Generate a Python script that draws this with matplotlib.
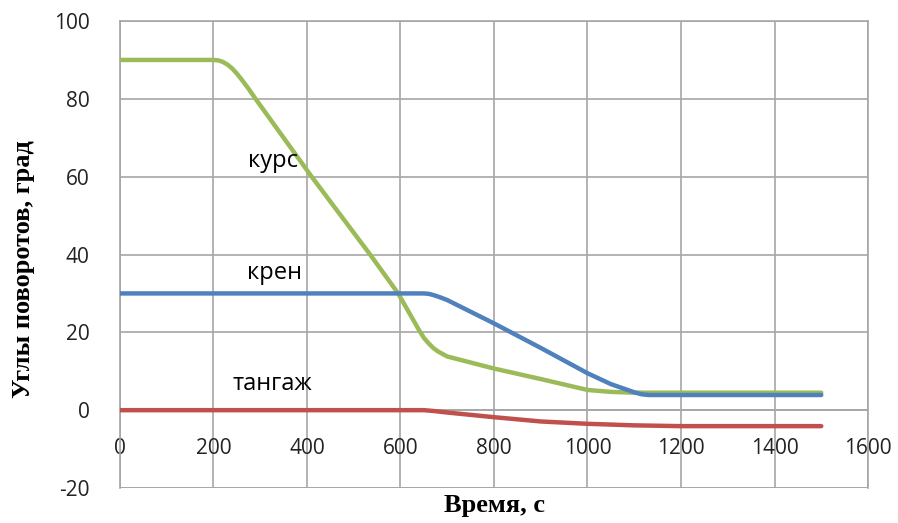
import numpy as np
from matplotlib import pyplot as plt

plt.rcParams["axes.unicode_minus"] = False

# курс
t_kurs = [0, 200, 210, 220, 230, 240, 250, 260, 275, 290, 410, 535, 595, 640, 650, 660, 670, 680, 700, 800, 900, 1000, 1050, 1100, 1500]
kurs = [90, 90, 89.9, 89.5, 88.8, 87.8, 86.5, 85, 82.6, 80, 60, 40, 30, 20.5, 18.6, 17.2, 16, 15.1, 13.8, 10.7, 8, 5.2, 4.7, 4.5, 4.5]
# крен
t_kren = [0, 650, 660, 670, 685, 700, 800, 900, 1000, 1050, 1100, 1115, 1130, 1500]
kren = [30, 30, 29.9, 29.6, 29.0, 28.3, 22.3, 16, 9.5, 6.7, 4.6, 4.1, 3.9, 3.9]
# тангаж
t_tang = [0, 650, 670, 700, 800, 900, 1000, 1100, 1200, 1500]
tang = [0, 0, -0.2, -0.6, -1.8, -2.9, -3.5, -3.9, -4.1, -4.1]

labels = [("курс", 327, 64), ("крен", 331, 35.2), ("тангаж", 325, 6.7)]

fig = plt.figure(figsize=(8.98, 5.23), dpi=100)
ax = fig.add_axes([0.1336, 0.0669, 0.8330, 0.8929])

ax.plot(t_kurs, kurs, color="#9BBB59", lw=3.2, solid_capstyle="round", solid_joinstyle="round", zorder=3)
ax.plot(t_kren, kren, color="#4F81BD", lw=3.2, solid_capstyle="round", solid_joinstyle="round", zorder=3)
ax.plot(t_tang, tang, color="#C0504D", lw=3.2, solid_capstyle="round", solid_joinstyle="round", zorder=3)

for txt, x, y in labels:
    ax.text(x, y, txt, ha="center", va="center", fontsize=17, family="Open Sans", zorder=4)

ax.set_xlim(0, 1600)
ax.set_ylim(-20, 100)
ax.set_xticks(np.arange(0, 1601, 200))
ax.set_yticks(np.arange(-20, 101, 20))
ax.grid(True, color="#A6A6A6", lw=1.2)
ax.set_axisbelow(True)

for s in ax.spines.values():
    s.set_color("#A6A6A6")
    s.set_linewidth(1.2)
ax.spines["bottom"].set_position(("data", 0))
ax.axhline(-20, color="#A6A6A6", lw=1.2, zorder=0)

ax.tick_params(length=0, labelsize=15, colors="#222222")
ax.tick_params(axis="x", pad=20)
ax.tick_params(axis="y", pad=22)
for lab in ax.get_xticklabels() + ax.get_yticklabels():
    lab.set_family("Open Sans")

fig.text(0.551, 0.034, "Время, с", ha="center", va="center",
         fontsize=19, fontweight="bold", family="Liberation Serif")
fig.text(0.026, 0.486, "Углы поворотов, град", ha="center", va="center", rotation=90,
         fontsize=19, fontweight="bold", family="Liberation Serif")

fig.savefig("out.png", dpi=100)
